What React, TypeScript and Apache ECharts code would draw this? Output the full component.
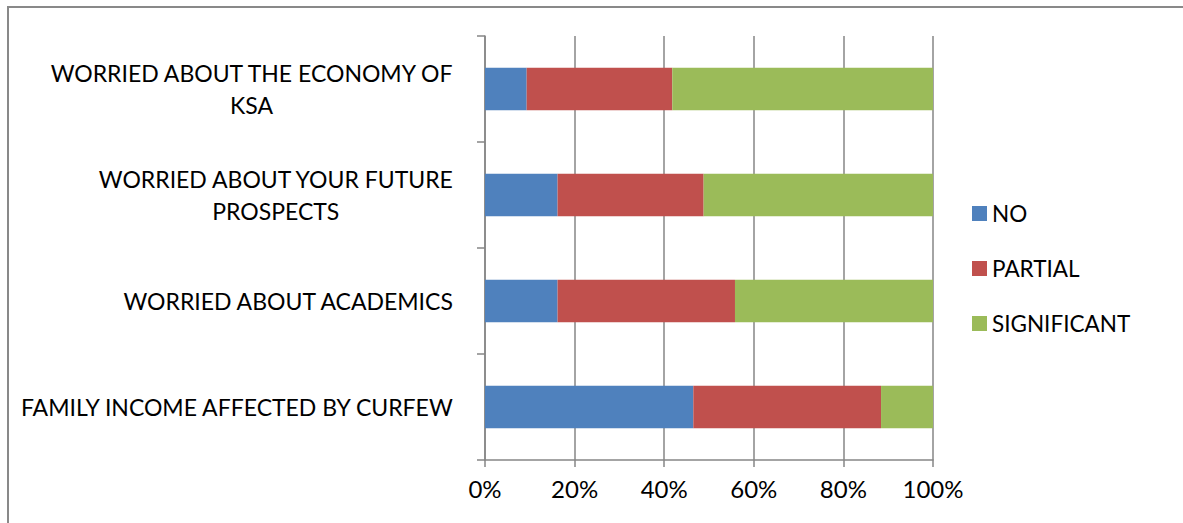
import React, { useEffect, useRef } from "react";
import * as echarts from "echarts";

const categories = [
  "FAMILY INCOME AFFECTED BY CURFEW",
  "WORRIED ABOUT ACADEMICS",
  "WORRIED ABOUT YOUR FUTURE PROSPECTS",
  "WORRIED ABOUT THE ECONOMY OF KSA",
];
const categoryLines = [
  ["FAMILY INCOME AFFECTED BY CURFEW"],
  ["WORRIED ABOUT ACADEMICS"],
  ["WORRIED ABOUT YOUR FUTURE", "PROSPECTS"],
  ["WORRIED ABOUT THE ECONOMY OF", "KSA"],
];
const seriesNames = ["NO", "PARTIAL", "SIGNIFICANT"];
const noValues = [46.5, 16.2, 16.2, 9.3];
const partialValues = [41.9, 39.6, 32.6, 32.5];
const significantValues = [11.6, 44.2, 51.2, 58.2];
const colors = ["#4F81BD", "#C0504D", "#9BBB59"];

const FONT = "Lato";
const GRAY = "#868686";

export default function App() {
  const ref = useRef<HTMLDivElement>(null);
  useEffect(() => {
    if (!ref.current) return;
    const chart = echarts.init(ref.current, null, { renderer: "svg" });
    const values = [noValues, partialValues, significantValues];
    chart.setOption({
      animation: false,
      backgroundColor: "#ffffff",
      grid: { left: 485, right: 250, top: 36, bottom: 63, containLabel: false },
      legend: {
        orient: "vertical",
        left: 972,
        top: 202,
        padding: 0,
        itemWidth: 15,
        itemHeight: 15,
        itemGap: 32,
        icon: "rect",
        data: seriesNames,
        textStyle: { fontFamily: FONT, fontSize: 22.5, color: "#000", lineHeight: 22 },
      },
      xAxis: {
        type: "value",
        min: 0,
        max: 100,
        interval: 20,
        axisLine: { show: true, lineStyle: { color: GRAY, width: 1.5 } },
        axisTick: { show: true, length: 7, lineStyle: { color: GRAY, width: 1.5 } },
        splitLine: { show: true, lineStyle: { color: GRAY, width: 1.5 } },
        axisLabel: {
          formatter: "{value}%",
          fontFamily: FONT,
          fontSize: 24,
          color: "#000",
          margin: 16,
        },
      },
      yAxis: {
        type: "category",
        data: categories,
        axisLine: { show: true, lineStyle: { color: GRAY, width: 1.5 } },
        axisTick: { show: true, length: 8, lineStyle: { color: GRAY, width: 1.5 } },
        axisLabel: {
          margin: 31,
          formatter: (_v: string, i: number) =>
            categoryLines[i].map((l) => `{c|${l}}`).join("\n"),
          rich: {
            c: { fontFamily: FONT, fontSize: 23, color: "#000", align: "center", lineHeight: 32 },
          },
        },
      },
      series: seriesNames.map((name, k) => ({
        name,
        type: "bar",
        stack: "total",
        barCategoryGap: "60%",
        data: values[k],
        itemStyle: { color: colors[k] },
      })),
      graphic: [
        { type: "line", shape: { x1: 7, y1: 7, x2: 1183, y2: 7 }, style: { stroke: "#898989", lineWidth: 2 } },
        { type: "line", shape: { x1: 8, y1: 7, x2: 8, y2: 523 }, style: { stroke: "#898989", lineWidth: 2 } },
      ],
    });
    return () => chart.dispose();
  }, []);
  return (
    <div
      ref={ref}
      style={{ position: "fixed", left: 0, top: 0, width: 1183, height: 523, background: "#fff" }}
    />
  );
}
